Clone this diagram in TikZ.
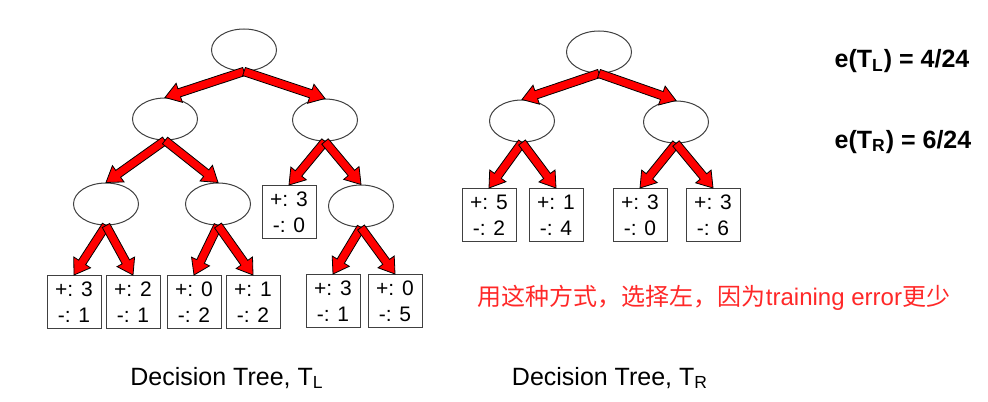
\documentclass[tikz,border=0pt]{standalone}
\usepackage{fontspec}
\setmainfont{Liberation Sans}
\newfontfamily\cjk{Noto Sans CJK SC}
\usepackage{xcolor}
\usepackage{tikz}
\usetikzlibrary{shapes.geometric, calc, positioning}
\definecolor{notered}{RGB}{255,40,40}
\tikzstyle{split} = [ellipse, draw=black!75, line width=0.5pt, minimum width=32.5pt, minimum height=21pt, inner sep=0pt]
\tikzstyle{leaf} = [rectangle, draw=black!75, line width=0.5pt, minimum width=27pt, minimum height=26.5pt, inner sep=0pt, align=center, font=\fontsize{10.5}{12.8}\selectfont]
\tikzstyle{fatarrow} = [draw=black, fill=red, line width=0.4pt, line join=miter, to path={
    let \p1=(\tikztostart), \p2=(\tikztotarget), \p3=($(\p2)!7.5pt!(\p1)$) in
    ($(\p1)!2.1pt!90:(\p2)$) -- ($(\p3)!2.1pt!90:(\p2)$) -- ($(\p3)!5pt!90:(\p2)$) -- (\p2)
    -- ($(\p3)!5pt!-90:(\p2)$) -- ($(\p3)!2.1pt!-90:(\p2)$) -- ($(\p1)!2.1pt!-90:(\p2)$) -- cycle}]

\begin{document}
\begin{tikzpicture}[x=0.5pt, y=-0.5pt]
              \useasboundingbox (0,0) rectangle (988,401);

              \node[split] (l-root) at (244,50) {};
              \node[split] (l-1) at (165,119) {};
              \node[split] (l-2) at (325,120) {};
              \node[split] (l-11) at (106,204) {};
              \node[split] (l-12) at (218,204) {};
              \node[leaf] (l-21) at (289,212) {+: 3\\-: 0};
              \node[split] (l-22) at (361,206) {};

              \node[leaf] (l-leaf-1) at (74,302) {+: 3\\-: 1};
              \node[leaf] (l-leaf-2) at (133,302) {+: 2\\-: 1};
              \node[leaf] (l-leaf-3) at (194,302) {+: 0\\-: 2};
              \node[leaf] (l-leaf-4) at (253,302) {+: 1\\-: 2};
              \node[leaf] (l-leaf-5) at (333,301) {+: 3\\-: 1};
              \node[leaf] (l-leaf-6) at (395,301) {+: 0\\-: 5};

              \draw[fatarrow] (l-root.south) to (l-1.north);
              \draw[fatarrow] (l-root.south) to (l-2.north);
              \draw[fatarrow] (l-1.south) to (l-11.north);
              \draw[fatarrow] (l-1.south) to (l-12.north);
              \draw[fatarrow] (l-2.south) to (l-21.north);
              \draw[fatarrow] (l-2.south) to (l-22.north);
              \draw[fatarrow] (l-11.south) to (l-leaf-1.north);
              \draw[fatarrow] (l-11.south) to (l-leaf-2.north);
              \draw[fatarrow] (l-12.south) to (l-leaf-3.north);
              \draw[fatarrow] (l-12.south) to (l-leaf-4.north);
              \draw[fatarrow] (l-22.south) to (l-leaf-5.north);
              \draw[fatarrow] (l-22.south) to (l-leaf-6.north);

              \node[split] (r-root) at (599,52) {};
              \node[split] (r-1) at (522,121) {};
              \node[split] (r-2) at (676,122) {};

              \node[leaf] (r-leaf-1) at (489,215) {+: 5\\-: 2};
              \node[leaf] (r-leaf-2) at (556,215) {+: 1\\-: 4};
              \node[leaf] (r-leaf-3) at (640,215) {+: 3\\-: 0};
              \node[leaf] (r-leaf-4) at (713,215) {+: 3\\-: 6};

              \draw[fatarrow] (r-root.south) to (r-1.north);
              \draw[fatarrow] (r-root.south) to (r-2.north);
              \draw[fatarrow] (r-1.south) to (r-leaf-1.north);
              \draw[fatarrow] (r-1.south) to (r-leaf-2.north);
              \draw[fatarrow] (r-2.south) to (r-leaf-3.north);
              \draw[fatarrow] (r-2.south) to (r-leaf-4.north);

              \node[anchor=base, font=\fontsize{12.5}{15}\selectfont\bfseries] (err-l) at (902,68) {e(T\textsubscript{L}) = 4/24};
              \node[anchor=base, font=\fontsize{12.5}{15}\selectfont\bfseries] (err-r) at (903,148) {e(T\textsubscript{R}) = 6/24};

              \node[text=notered, font=\fontsize{12}{14}\selectfont] (note) at (714,298) {{\cjk 用这种方式，选择左，因为}training error{\cjk 更少}};

              \node[anchor=base, font=\fontsize{12.5}{15}\selectfont] (title-l) at (227,385) {Decision Tree, T\textsubscript{L}};
              \node[anchor=base, font=\fontsize{12.5}{15}\selectfont] (title-r) at (610,385) {Decision Tree, T\textsubscript{R}};

          \end{tikzpicture}
\end{document}
